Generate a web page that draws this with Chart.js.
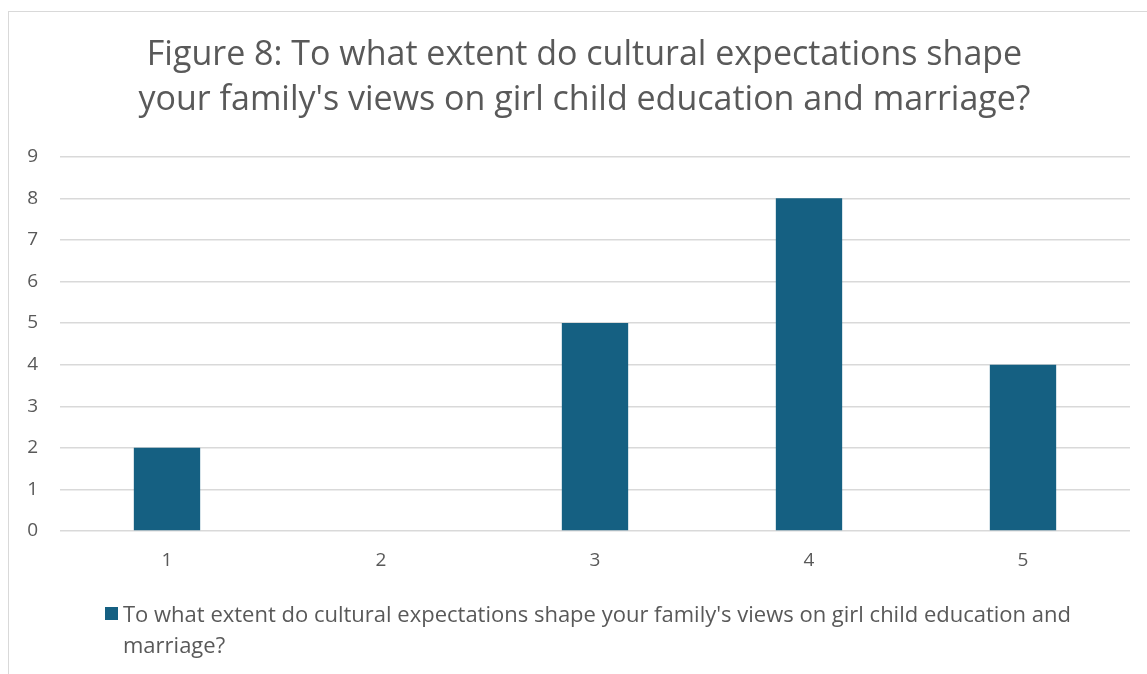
<!DOCTYPE html>
<html lang="en">
<head>
<meta charset="UTF-8">
<title>Figure 8</title>
<script src="https://cdn.jsdelivr.net/npm/chart.js"></script>
<style>
  body { margin: 0; background: #fff; font-family: "Open Sans", sans-serif; }
  .frame { position: absolute; left: 8px; top: 11px; width: 1150px; height: 680px;
           border-left: 1px solid #d9d9d9; border-top: 1px solid #d9d9d9; }
  #chart { position: absolute; left: 0; top: 0; }
  .legend { position: absolute; left: 105px; top: 598px; width: 1000px; color: #595959;
            font-size: 22px; line-height: 31px; }
  .legend .box { position: absolute; left: 0; top: 9px; width: 13px; height: 13px; background: #156082; }
  .legend .txt { margin-left: 18px; width: 975px; }
</style>
</head>
<body>
<div class="frame"></div>
<div style="position:absolute;left:0;top:0;width:1147px;height:674px">
  <canvas id="chart" width="1147" height="674"></canvas>
</div>
<div class="legend"><div class="box"></div><div class="txt" id="legendText"></div></div>
<script>
  // survey answers, count per rating
  const titleLines = ["Figure 8: To what extent do cultural expectations shape",
                      "your family's views on girl child education and marriage?"];
  const seriesName = "To what extent do cultural expectations shape your family's views on girl child education and marriage?";
  const ratings = ["1", "2", "3", "4", "5"];
  const counts = [2, 0, 5, 8, 4];
  const yTicks = [0, 1, 2, 3, 4, 5, 6, 7, 8, 9];

  const grey = "#595959";
  document.getElementById("legendText").textContent = seriesName;

  // centre the title on the whole frame, not on the space left of the right padding
  const titleShift = {
    id: "titleShift",
    afterLayout(chart) {
      const t = chart.titleBlock;
      t.left = 39;
      t.width = t.right - t.left;
    }
  };

  new Chart(document.getElementById("chart"), {
    type: "bar",
    data: {
      labels: ratings,
      datasets: [{
        label: seriesName,
        data: counts,
        backgroundColor: "#156082",
        categoryPercentage: 1,
        barPercentage: 0.31
      }]
    },
    options: {
      responsive: false,
      animation: false,
      layout: { padding: { left: 0, right: 17, top: 0, bottom: 83 } },
      plugins: {
        legend: { display: false },
        tooltip: { enabled: false },
        title: {
          display: true,
          text: titleLines,
          color: grey,
          font: { family: "Open Sans", size: 34, weight: "normal", lineHeight: 1.32 },
          padding: { top: 33, bottom: 34 }
        }
      },
      scales: {
        x: {
          grid: { display: false, drawTicks: false },
          border: { display: false },
          ticks: { color: grey, font: { family: "Open Sans", size: 19 }, padding: 18 },
          afterFit: s => { s.height = 60; }
        },
        y: {
          min: 0,
          max: 9,
          afterBuildTicks: s => { s.ticks = yTicks.map(v => ({ value: v })); },
          grid: { color: "#d9d9d9", lineWidth: 1.5, drawTicks: false },
          border: { display: false },
          ticks: { color: grey, font: { family: "Open Sans", size: 19 }, padding: 22 },
          afterFit: s => { s.width = 60; }
        }
      }
    },
    plugins: [titleShift]
  });
</script>
</body>
</html>
